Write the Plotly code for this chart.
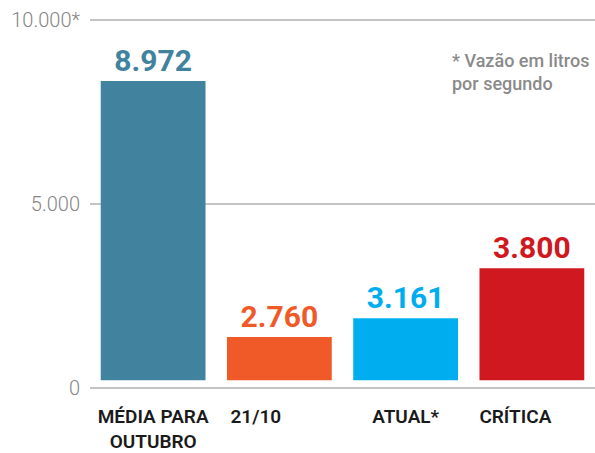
import plotly.graph_objects as go

categories = ["MÉDIA PARA<br>OUTUBRO", "21/10", "ATUAL*", "CRÍTICA"]
label_values = ["8.972", "2.760", "3.161", "3.800"]
bar_tops = [8340, 1390, 1900, 3260]   # drawn heights
bar_base = 217
colors = ["#41829f", "#f05a28", "#00aeef", "#cf1820"]
y_tickvals = [0, 5000, 10000]
y_ticktext = ["0", "5.000", "10.000*"]
note_text = "* Vazão em litros<br>por segundo"

# labels under the bars are not all centred in the original; pad with non-breaking spaces
nb = "\u00a0"
x_ticktext = [categories[0], categories[1] + nb * 10, categories[2], categories[3] + nb * 7]

fig = go.Figure()
fig.add_trace(go.Bar(
    x=categories,
    y=[t - bar_base for t in bar_tops],
    base=[bar_base] * len(bar_tops),
    marker=dict(color=colors, line=dict(width=0)),
    text=label_values,
    textposition="outside",
    textfont=dict(family="Roboto", size=30, color=colors, weight="bold"),
    cliponaxis=False,
    hoverinfo="skip",
))

fig.add_annotation(
    text=note_text, xref="paper", yref="paper", x=0.713, y=0.915,
    xanchor="left", yanchor="top", showarrow=False, align="left",
    font=dict(family="Roboto", size=18, color="#8a8a8a", weight=500),
)

fig.update_layout(
    width=595, height=453,
    margin=dict(l=90, r=0, t=16, b=61, autoexpand=False),
    plot_bgcolor="white", paper_bgcolor="white",
    bargap=0.17,
    showlegend=False,
    xaxis=dict(
        showgrid=False, zeroline=False, showline=False, automargin=False,
        tickmode="array", tickvals=categories, ticktext=x_ticktext,
        ticks="outside", ticklen=0, ticklabelstandoff=7,
        tickfont=dict(family="Roboto", size=19, color="#1a1a1a", weight=600),
    ),
    yaxis=dict(
        range=[-100, 10100], tickvals=y_tickvals, ticktext=y_ticktext,
        showgrid=True, gridcolor="#c4c4c4", gridwidth=2, automargin=False,
        zeroline=False, showline=False,
        ticks="outside", ticklen=0, ticklabelstandoff=5,
        tickfont=dict(family="Roboto", size=20, color="#858585", weight=300),
    ),
)

fig.write_html("out.html", config={"displayModeBar": False},
               post_script="document.body.style.margin='0';")
